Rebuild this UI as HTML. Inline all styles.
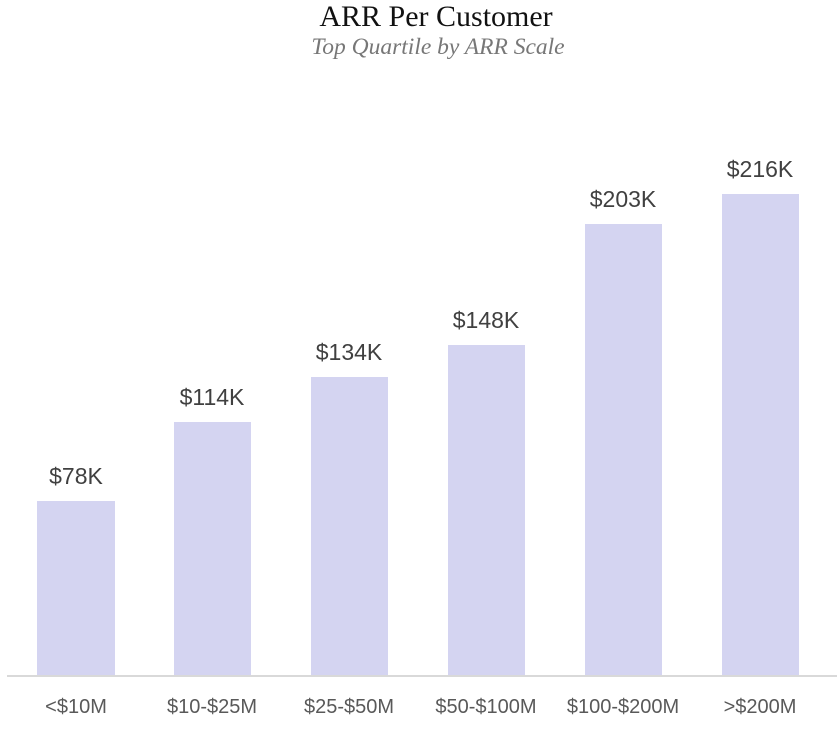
<!DOCTYPE html>
<html><head><meta charset="utf-8"><style>
html,body{margin:0;padding:0;background:#fff;}
svg{display:block;}
</style></head><body>
<svg width="837" height="730" xmlns="http://www.w3.org/2000/svg">
<text x="436" y="26" text-anchor="middle" font-family="Liberation Serif, serif" font-size="30" fill="#111">ARR Per Customer</text>
<text x="438" y="54" text-anchor="middle" font-family="Liberation Serif, serif" font-style="italic" font-size="23.5" fill="#777">Top Quartile by ARR Scale</text>
<g fill="#d4d4f1">
<rect x="37" y="501" width="78" height="174"/>
<rect x="174" y="422" width="77" height="253"/>
<rect x="311" y="377" width="77" height="298"/>
<rect x="448" y="345" width="77" height="330"/>
<rect x="585" y="224" width="77" height="451"/>
<rect x="722" y="194" width="77" height="481"/>
</g>
<rect x="7" y="675" width="830" height="2" fill="#d9d9d9"/>
<g font-family="Liberation Sans, sans-serif" font-size="23" fill="#404040" text-anchor="middle">
<text x="76" y="484">$78K</text>
<text x="212" y="405">$114K</text>
<text x="349" y="360">$134K</text>
<text x="486" y="328">$148K</text>
<text x="623" y="207">$203K</text>
<text x="760" y="177">$216K</text>
</g>
<g font-family="Liberation Sans, sans-serif" font-size="20" fill="#595959" text-anchor="middle">
<text x="76" y="713">&lt;$10M</text>
<text x="212" y="713">$10-$25M</text>
<text x="349" y="713">$25-$50M</text>
<text x="486" y="713">$50-$100M</text>
<text x="623" y="713">$100-$200M</text>
<text x="760" y="713">&gt;$200M</text>
</g>
</svg>
</body></html>
